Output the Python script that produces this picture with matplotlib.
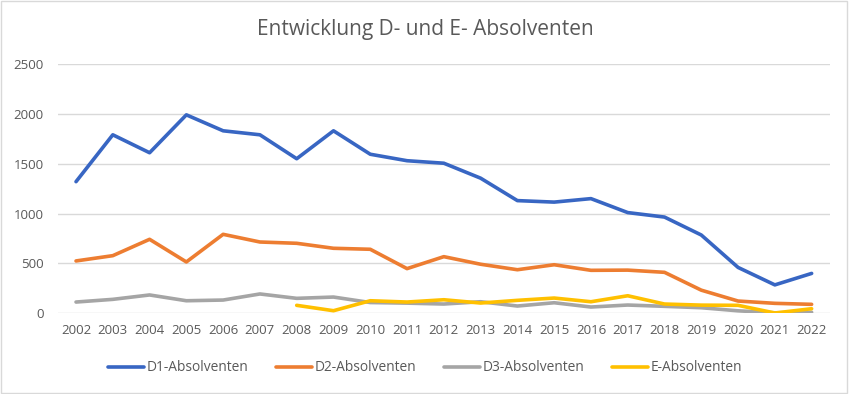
import matplotlib
matplotlib.use("Agg")
import matplotlib.pyplot as plt
from matplotlib.patches import Rectangle

plt.rcParams['font.family'] = ['Open Sans', 'DejaVu Sans']

years = list(range(2002, 2023))
d1 = [1320, 1790, 1610, 1990, 1830, 1790, 1550, 1830, 1595, 1530, 1505,
      1355, 1130, 1115, 1150, 1010, 965, 785, 460, 285, 400]
d2 = [525, 578, 742, 515, 792, 715, 702, 652, 642, 448, 568,
      492, 437, 487, 431, 433, 411, 232, 123, 100, 90]
d3 = [113, 140, 184, 126, 133, 194, 150, 163, 108, 102, 93,
      116, 73, 106, 63, 83, 70, 56, 25, 5, 10]
e_years = list(range(2008, 2023))
e = [80, 26, 126, 113, 136, 103, 130, 153, 116, 176, 93, 82, 80, 3, 46]

txt = '#595959'

fig = plt.figure(figsize=(8.5, 3.94), dpi=100)
ax = fig.add_axes([0.0678, 0.2048, 0.9087, 0.6328])

lw = 2.6
ax.plot(years, d1, color='#3866C3', lw=lw, label='D1-Absolventen', solid_capstyle='round')
ax.plot(years, d2, color='#ED7D31', lw=lw, label='D2-Absolventen', solid_capstyle='round')
ax.plot(years, d3, color='#A5A5A5', lw=lw, label='D3-Absolventen', solid_capstyle='round')
ax.plot(e_years, e, color='#FFC000', lw=lw, label='E-Absolventen', solid_capstyle='round')

ax.set_xlim(2001.5, 2022.5)
ax.set_ylim(0, 2500)
ax.set_xticks(years)
ax.set_xticklabels([str(y) for y in years])
ax.set_yticks([0, 500, 1000, 1500, 2000, 2500])
ax.grid(axis='y', color='#D9D9D9', lw=1)
ax.set_axisbelow(True)
for s in ax.spines.values():
    s.set_visible(False)
ax.tick_params(length=0, labelsize=9.5, labelcolor=txt)
ax.tick_params(axis='y', pad=10)
ax.tick_params(axis='x', pad=8)

fig.text(0.5, 0.924, 'Entwicklung D- und E- Absolventen', ha='center', va='center',
         fontsize=15, color=txt)

ax.legend(loc='center', bbox_to_anchor=(0.5, 0.066), bbox_transform=fig.transFigure,
          ncol=4, frameon=False, fontsize=9.9, labelcolor=txt,
          handlelength=2.6, handletextpad=0.22, columnspacing=2.0)

fig.patches.append(Rectangle((0.001, 0.003), 0.996, 0.994, transform=fig.transFigure,
                             fill=False, edgecolor='#D9D9D9', lw=1))

fig.savefig('out.png', dpi=100)
